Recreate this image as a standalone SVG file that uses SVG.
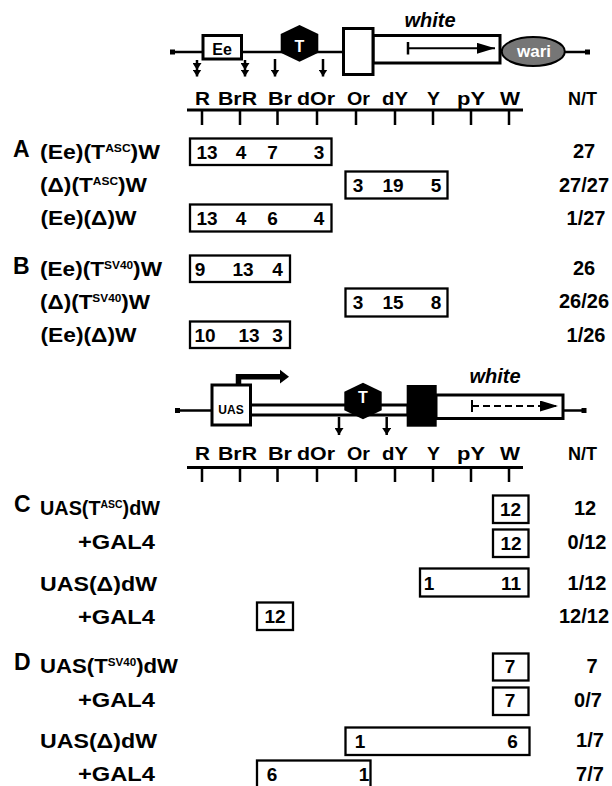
<svg xmlns="http://www.w3.org/2000/svg" width="612" height="786" viewBox="0 0 612 786">
<style>
text{font-family:"Liberation Sans",Arial,Helvetica,sans-serif;font-weight:bold;fill:#000}
.big{font-size:23px}
.row{font-size:20px}
.sup{font-size:10.5px}
.hdr{font-size:19px;text-anchor:middle}
.num{font-size:19px;text-anchor:middle}
.nt{font-size:20px;text-anchor:middle}
.box{fill:none;stroke:#000;stroke-width:2.3}
.ln{stroke:#000;stroke-width:2.5;fill:none}
.thick{fill:#fff;stroke:#000;stroke-width:3}
.tick{stroke:#000;stroke-width:2.5}
</style>
<defs>
<marker id="dah" markerWidth="7" markerHeight="9" refX="7" refY="4.5" orient="auto" markerUnits="userSpaceOnUse"><path d="M0,0 L7,4.5 L0,9 z" fill="#000"/></marker>
<marker id="gah" markerWidth="18" markerHeight="11" refX="18" refY="5.5" orient="auto" markerUnits="userSpaceOnUse"><path d="M0,0 L18,5.5 L0,11 z" fill="#000"/></marker>
</defs>

<!-- Construct 1 -->
<g id="construct1">
<line class="ln" x1="172" y1="52" x2="588" y2="52"/>
<rect x="170" y="49.5" width="5" height="5" fill="#000"/>
<rect x="585" y="49.5" width="5" height="5" fill="#000"/>
</g>
<g id="ee">
<rect class="thick" x="203" y="35.5" width="38.5" height="23.5"/>
<text x="222" y="55" font-size="16" text-anchor="middle">Ee</text>
</g>
<g id="insulator1">
<polygon points="299.5,25 318.3,34 318.3,52.7 299.5,61.7 280.7,52.7 280.7,34" fill="#000"/>
<text x="299.5" y="51.7" font-size="16" text-anchor="middle" style="fill:#fff">T</text>
</g>
<g id="white1">
<rect class="thick" x="373" y="35.5" width="127" height="27.5"/>
<rect class="thick" x="343.5" y="28.5" width="29.5" height="46"/>
<line class="ln" x1="408" y1="42" x2="408" y2="54.5" stroke-width="2"/>
<line x1="408" y1="48.3" x2="495" y2="48.3" stroke="#000" stroke-width="2" marker-end="url(#gah)"/>
<text x="430" y="26.5" font-size="20" font-style="italic" text-anchor="middle">white</text>
</g>
<g id="wari">
<ellipse cx="533.3" cy="51.5" rx="31.5" ry="14.5" fill="#767676" stroke="#000" stroke-width="2"/>
<text x="534" y="57" font-size="17" text-anchor="middle" style="fill:#fff">wari</text>
</g>

<g id="connectors">
<polyline class="ln" stroke-width="2" points="197,60 197,70 197,76.5" marker-mid="url(#dah)" marker-end="url(#dah)"/>
<polyline class="ln" stroke-width="2" points="245,60 245,70 245,76.5" marker-mid="url(#dah)" marker-end="url(#dah)"/>
<line class="ln" stroke-width="2" x1="275" y1="59" x2="275" y2="76.5" marker-end="url(#dah)"/>
<line class="ln" stroke-width="2" x1="323" y1="59" x2="323" y2="76.5" marker-end="url(#dah)"/>
<line class="ln" stroke-width="2" x1="339" y1="417" x2="339" y2="435" marker-end="url(#dah)"/>
<line class="ln" stroke-width="2" x1="386.7" y1="417" x2="386.7" y2="435" marker-end="url(#dah)"/>
</g>

<!-- Scale 1 -->
<g id="scale1">
<text class="hdr" x="202.5" y="105" textLength="15" lengthAdjust="spacingAndGlyphs">R</text>
<text class="hdr" x="237.5" y="105" textLength="39" lengthAdjust="spacingAndGlyphs">BrR</text>
<text class="hdr" x="280" y="105" textLength="24" lengthAdjust="spacingAndGlyphs">Br</text>
<text class="hdr" x="316" y="105" textLength="38" lengthAdjust="spacingAndGlyphs">dOr</text>
<text class="hdr" x="358.5" y="105" textLength="23" lengthAdjust="spacingAndGlyphs">Or</text>
<text class="hdr" x="395" y="105" textLength="26" lengthAdjust="spacingAndGlyphs">dY</text>
<text class="hdr" x="433.5" y="105" textLength="13" lengthAdjust="spacingAndGlyphs">Y</text>
<text class="hdr" x="471" y="105" textLength="28" lengthAdjust="spacingAndGlyphs">pY</text>
<text class="hdr" x="510" y="105" textLength="20" lengthAdjust="spacingAndGlyphs">W</text>
<text class="hdr" x="582.5" y="105" textLength="29" lengthAdjust="spacingAndGlyphs">N/T</text>
<line x1="187" y1="110" x2="523" y2="110" stroke="#000" stroke-width="3"/>
<path class="tick" d="M202,110V125M240,110V125M277.5,110V125M317,110V125M356,110V125M395,110V125M433,110V125M471,110V125M509,110V125"/>
</g>

<!-- Panel A -->
<g id="panelA">
<text class="big" x="13" y="157">A</text>
<text class="row" x="40" y="159" textLength="120" lengthAdjust="spacingAndGlyphs">(Ee)(T<tspan class="sup" dy="-7">ASC</tspan><tspan dy="7">)W</tspan></text>
<rect class="box" x="190" y="138.5" width="141.5" height="26.5"/>
<text class="num" x="207" y="159">13</text><text class="num" x="241" y="159">4</text><text class="num" x="272.5" y="159">7</text><text class="num" x="319" y="159">3</text>
<text class="nt" x="584" y="158">27</text>

<text class="row" x="40" y="192" textLength="107" lengthAdjust="spacingAndGlyphs">(Δ)(T<tspan class="sup" dy="-7">ASC</tspan><tspan dy="7">)W</tspan></text>
<rect class="box" x="345.5" y="171.5" width="102" height="27"/>
<text class="num" x="358" y="192">3</text><text class="num" x="393" y="192">19</text><text class="num" x="436" y="192">5</text>
<text class="nt" x="584" y="192">27/27</text>

<text class="row" x="40.5" y="225" textLength="96" lengthAdjust="spacingAndGlyphs">(Ee)(Δ)W</text>
<rect class="box" x="190" y="204.5" width="141.5" height="27"/>
<text class="num" x="207" y="225">13</text><text class="num" x="241" y="225">4</text><text class="num" x="272.5" y="225">6</text><text class="num" x="319" y="225">4</text>
<text class="nt" x="586" y="225">1/27</text>
</g>

<!-- Panel B -->
<g id="panelB">
<text class="big" x="13" y="274">B</text>
<text class="row" x="40" y="276" textLength="122" lengthAdjust="spacingAndGlyphs">(Ee)(T<tspan class="sup" dy="-7">SV40</tspan><tspan dy="7">)W</tspan></text>
<rect class="box" x="190" y="255.5" width="100" height="26.5"/>
<text class="num" x="200" y="276">9</text><text class="num" x="243" y="276">13</text><text class="num" x="277.5" y="276">4</text>
<text class="nt" x="584" y="275">26</text>

<text class="row" x="40" y="309" textLength="110" lengthAdjust="spacingAndGlyphs">(Δ)(T<tspan class="sup" dy="-7">SV40</tspan><tspan dy="7">)W</tspan></text>
<rect class="box" x="345.5" y="288.5" width="102" height="28"/>
<text class="num" x="358" y="309">3</text><text class="num" x="393" y="309">15</text><text class="num" x="436" y="309">8</text>
<text class="nt" x="584" y="308">26/26</text>

<text class="row" x="40.5" y="342" textLength="96" lengthAdjust="spacingAndGlyphs">(Ee)(Δ)W</text>
<rect class="box" x="190" y="321.5" width="100" height="26.5"/>
<text class="num" x="205" y="342">10</text><text class="num" x="249" y="342">13</text><text class="num" x="277.5" y="342">3</text>
<text class="nt" x="586" y="342">1/26</text>
</g>

<!-- Construct 2 -->
<g id="construct2">
<line class="ln" x1="177" y1="410.5" x2="212" y2="410.5"/>
<line class="ln" x1="563" y1="410.5" x2="584" y2="410.5"/>
<rect x="175" y="408" width="5" height="5" fill="#000"/>
<rect x="581.5" y="408" width="5" height="5" fill="#000"/>
<rect class="thick" x="250" y="405" width="158" height="10"/>
</g>
<g id="uas">
<rect class="thick" x="212" y="385" width="38.5" height="40"/>
<path d="M238.5,385 V376.7 H281" fill="none" stroke="#000" stroke-width="5.5"/>
<polygon points="280,369.8 289,376.7 280,383.6" fill="#000"/>
<text x="231" y="413.5" font-size="12" text-anchor="middle">UAS</text>
</g>
<g id="insulator2">
<polygon points="363,382.7 381.7,391.7 381.7,410.3 363,419.3 344.3,410.3 344.3,391.7" fill="#000"/>
<text x="363" y="403.3" font-size="16" text-anchor="middle" style="fill:#fff">T</text>
</g>
<g id="white2">
<rect class="thick" x="436" y="395" width="127" height="23.5"/>
<rect x="406.7" y="385" width="30" height="41.7" fill="#000"/>
<line x1="472" y1="400" x2="472" y2="412" stroke="#000" stroke-width="2"/>
<line x1="472" y1="406" x2="558" y2="406" stroke="#000" stroke-width="2" stroke-dasharray="7,4" marker-end="url(#gah)"/>
<text x="495" y="383" font-size="20" font-style="italic" text-anchor="middle">white</text>
</g>

<!-- Scale 2 -->
<g id="scale2">
<text class="hdr" x="202.5" y="460" textLength="15" lengthAdjust="spacingAndGlyphs">R</text>
<text class="hdr" x="237.5" y="460" textLength="39" lengthAdjust="spacingAndGlyphs">BrR</text>
<text class="hdr" x="280" y="460" textLength="24" lengthAdjust="spacingAndGlyphs">Br</text>
<text class="hdr" x="316" y="460" textLength="38" lengthAdjust="spacingAndGlyphs">dOr</text>
<text class="hdr" x="358.5" y="460" textLength="23" lengthAdjust="spacingAndGlyphs">Or</text>
<text class="hdr" x="395" y="460" textLength="26" lengthAdjust="spacingAndGlyphs">dY</text>
<text class="hdr" x="433.5" y="460" textLength="13" lengthAdjust="spacingAndGlyphs">Y</text>
<text class="hdr" x="471" y="460" textLength="28" lengthAdjust="spacingAndGlyphs">pY</text>
<text class="hdr" x="510" y="460" textLength="20" lengthAdjust="spacingAndGlyphs">W</text>
<text class="hdr" x="582.5" y="460" textLength="29" lengthAdjust="spacingAndGlyphs">N/T</text>
<line x1="187" y1="467.5" x2="523" y2="467.5" stroke="#000" stroke-width="3"/>
<path class="tick" d="M202,467.5V482M240,467.5V482M277.5,467.5V482M317,467.5V482M356,467.5V482M395,467.5V482M433,467.5V482M471,467.5V482M509,467.5V482"/>
</g>

<!-- Panel C -->
<g id="panelC">
<text class="big" x="14" y="512">C</text>
<text class="row" x="40" y="515" textLength="120" lengthAdjust="spacingAndGlyphs">UAS(T<tspan class="sup" dy="-7">ASC</tspan><tspan dy="7">)dW</tspan></text>
<rect class="box" x="493" y="495.5" width="35.5" height="27.5"/>
<text class="num" x="510.5" y="516">12</text>
<text class="nt" x="585" y="515">12</text>

<text class="row" x="78" y="549" textLength="77" lengthAdjust="spacingAndGlyphs">+GAL4</text>
<rect class="box" x="493" y="529.5" width="35.5" height="27.5"/>
<text class="num" x="511" y="550">12</text>
<text class="nt" x="587" y="549">0/12</text>

<text class="row" x="40" y="591" textLength="117" lengthAdjust="spacingAndGlyphs">UAS(Δ)dW</text>
<rect class="box" x="420" y="568.5" width="108.5" height="28"/>
<text class="num" x="429" y="590">1</text><text class="num" x="511" y="590">11</text>
<text class="nt" x="587" y="590">1/12</text>

<text class="row" x="78" y="624" textLength="77" lengthAdjust="spacingAndGlyphs">+GAL4</text>
<rect class="box" x="257" y="602.5" width="36" height="27.5"/>
<text class="num" x="275" y="623">12</text>
<text class="nt" x="584" y="623">12/12</text>
</g>

<!-- Panel D -->
<g id="panelD">
<text class="big" x="14" y="670">D</text>
<text class="row" x="40" y="673" textLength="138" lengthAdjust="spacingAndGlyphs">UAS(T<tspan class="sup" dy="-7">SV40</tspan><tspan dy="7">)dW</tspan></text>
<rect class="box" x="493" y="653.5" width="35.5" height="27"/>
<text class="num" x="510" y="673">7</text>
<text class="nt" x="592" y="673">7</text>

<text class="row" x="78" y="707" textLength="77" lengthAdjust="spacingAndGlyphs">+GAL4</text>
<rect class="box" x="493" y="687.5" width="35.5" height="27.5"/>
<text class="num" x="510" y="707">7</text>
<text class="nt" x="588" y="707">0/7</text>

<text class="row" x="40" y="748" textLength="117" lengthAdjust="spacingAndGlyphs">UAS(Δ)dW</text>
<rect class="box" x="345.5" y="727.5" width="184" height="27.5"/>
<text class="num" x="360" y="748">1</text><text class="num" x="512.5" y="748">6</text>
<text class="nt" x="590" y="747">1/7</text>

<text class="row" x="78" y="781" textLength="77" lengthAdjust="spacingAndGlyphs">+GAL4</text>
<rect class="box" x="257" y="760.5" width="113.5" height="32"/>
<text class="num" x="272" y="781">6</text><text class="num" x="364" y="781">1</text>
<text class="nt" x="590" y="781">7/7</text>
</g>
</svg>
